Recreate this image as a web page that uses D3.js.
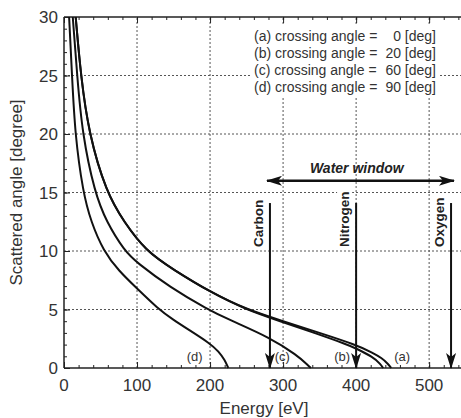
<!DOCTYPE html>
<html>
<head>
<meta charset="utf-8">
<script src="https://cdn.jsdelivr.net/npm/d3@7"></script>
<style>
  body { margin: 0; background: #fff; }
  text { font-family: Arial, "Liberation Sans", sans-serif; }
</style>
</head>
<body>
<svg width="461" height="418"></svg>
<script>
// curves: scattered angle vs energy for each crossing angle
var angleA = [30, 25, 20, 15, 12.5, 10, 8.4, 6.5, 5, 4, 3, 2, 1.3, 0.85, 0.4, 0];
var energyA = [16, 23, 34, 58, 82, 112, 150, 200, 250, 300, 350, 399, 423, 435, 443, 448];

var angleB = [30, 25, 20, 15, 12.5, 10, 8.4, 6.5, 5, 4, 3, 2, 1.7, 0.95, 0.3, 0];
var energyB = [16, 23, 34, 58, 82, 112, 150, 200, 249, 296, 343, 388, 399, 423, 434, 437];

var angleC = [30, 25, 20, 15, 12.5, 10, 9, 6.9, 5, 4.1, 2.6, 1.1, 0.25, 0];
var energyC = [12, 18, 25, 42, 58, 83, 100, 145, 197, 227, 282, 319, 334, 338];

var angleD = [30, 25, 20, 15, 12.5, 10, 8.3, 6.8, 5.1, 4.1, 3.3, 2.1, 1.4, 0.7, 0];
var energyD = [7, 11, 15, 26, 37, 54, 75, 100, 128, 150, 170, 200, 212, 220, 225];

var curveNames = ["(a)", "(b)", "(c)", "(d)"];
var labelEnergy = [463, 381, 299, 179];
var legendLines = [["(a) crossing angle =", "0 [deg]"], ["(b) crossing angle =", "20 [deg]"],
                   ["(c) crossing angle =", "60 [deg]"], ["(d) crossing angle =", "90 [deg]"]];

var edgeNames = ["Carbon", "Nitrogen", "Oxygen"];
var edgeEnergy = [282, 400, 530];

var xTicks = [0, 100, 200, 300, 400, 500];
var yTicks = [0, 5, 10, 15, 20, 25, 30];

var svg = d3.select("svg");
var mLeft = 64, mTop = 17, mBottom = 368, mRight = 462;

var x = d3.scaleLinear().domain([0, 545]).range([mLeft, mRight]);
var y = d3.scaleLinear().domain([0, 30]).range([mBottom, mTop]);

var grid = svg.append("g");
grid.selectAll(".gx").data(xTicks.slice(1)).enter().append("line")
  .attr("x1", d => x(d)).attr("x2", d => x(d))
  .attr("y1", y(0)).attr("y2", y(30))
  .style("stroke", "#555").style("stroke-width", 1).style("stroke-dasharray", "2,2");
grid.selectAll(".gy").data(yTicks.slice(1, -1)).enter().append("line")
  .attr("x1", x(0)).attr("x2", mRight)
  .attr("y1", d => y(d)).attr("y2", d => y(d))
  .style("stroke", "#555").style("stroke-width", 1).style("stroke-dasharray", "2,2");

// legend box hides grid behind it
svg.append("rect").attr("x", 252).attr("y", 26).attr("width", 186).attr("height", 70).style("fill", "#fff");
legendLines.forEach(function(l, i) {
  svg.append("text").attr("x", 254).attr("y", 41 + i * 17)
    .style("font-size", "14px").style("fill", "#333").text(l[0]);
  svg.append("text").attr("x", 436).attr("y", 41 + i * 17).attr("text-anchor", "end")
    .style("font-size", "14px").style("fill", "#333").text(l[1]);
});

// axes
var xMinor = d3.range(0, 545, 20);
var yMinor = d3.range(0, 31, 1);
svg.append("g").attr("transform", "translate(0," + mBottom + ")")
  .call(d3.axisTop(x).tickValues(xMinor).tickSize(3).tickFormat(""))
  .call(g => g.select(".domain").remove());
svg.append("g").attr("transform", "translate(0," + mBottom + ")")
  .call(d3.axisTop(x).tickValues(xTicks).tickSize(6).tickFormat(""))
  .call(g => g.select(".domain").remove());
svg.append("g").attr("transform", "translate(0," + mTop + ")")
  .call(d3.axisBottom(x).tickValues(xMinor).tickSize(3).tickFormat(""))
  .call(g => g.select(".domain").remove());
svg.append("g").attr("transform", "translate(0," + mTop + ")")
  .call(d3.axisBottom(x).tickValues(xTicks).tickSize(6).tickFormat(""))
  .call(g => g.select(".domain").remove());
svg.append("g").attr("transform", "translate(" + mLeft + ",0)")
  .call(d3.axisRight(y).tickValues(yMinor).tickSize(3).tickFormat(""))
  .call(g => g.select(".domain").remove());
svg.append("g").attr("transform", "translate(" + mLeft + ",0)")
  .call(d3.axisRight(y).tickValues(yTicks).tickSize(6).tickFormat(""))
  .call(g => g.select(".domain").remove());
svg.selectAll(".tick line").style("stroke", "#222");

svg.append("line").attr("x1", mLeft).attr("x2", mRight).attr("y1", mBottom).attr("y2", mBottom)
  .style("stroke", "#222").style("stroke-width", 1.5);
svg.append("line").attr("x1", mLeft).attr("x2", mRight).attr("y1", mTop).attr("y2", mTop)
  .style("stroke", "#222").style("stroke-width", 1.5);
svg.append("line").attr("x1", mLeft).attr("x2", mLeft).attr("y1", mTop).attr("y2", mBottom)
  .style("stroke", "#222").style("stroke-width", 1.5);

svg.selectAll(".xl").data(xTicks).enter().append("text")
  .attr("x", d => x(d)).attr("y", 391).attr("text-anchor", "middle")
  .style("font-size", "17px").style("fill", "#333").text(d => d);
svg.selectAll(".yl").data(yTicks).enter().append("text")
  .attr("x", 58).attr("y", d => y(d) + 6).attr("text-anchor", "end")
  .style("font-size", "17px").style("fill", "#333").text(d => d);

svg.append("text").attr("x", 264).attr("y", 414).attr("text-anchor", "middle")
  .style("font-size", "17px").style("fill", "#333").text("Energy [eV]");
svg.append("text").attr("transform", "translate(22," + y(15) + ") rotate(-90)")
  .attr("text-anchor", "middle")
  .style("font-size", "17px").style("fill", "#333").text("Scattered angle [degree]");

// curves (smoothed through the read points)
var line = d3.line().x(d => x(d[0])).y(d => y(d[1])).curve(d3.curveBasis);
var series = [[energyA, angleA], [energyB, angleB], [energyC, angleC], [energyD, angleD]];
svg.append("g").selectAll("path").data(series).enter().append("path")
  .attr("d", s => line(s[0].map((e, i) => [e, s[1][i]])))
  .style("fill", "none").style("stroke", "#111").style("stroke-width", 2);

svg.selectAll(".cl").data(curveNames).enter().append("text")
  .attr("x", (d, i) => x(labelEnergy[i])).attr("y", 361).attr("text-anchor", "middle")
  .style("font-size", "13px").style("fill", "#333").text(d => d);

// arrows
var defs = svg.append("defs");
defs.append("marker").attr("id", "head").attr("viewBox", "0 0 16 10")
  .attr("refX", 15).attr("refY", 5).attr("markerWidth", 16).attr("markerHeight", 10)
  .attr("markerUnits", "userSpaceOnUse").attr("orient", "auto-start-reverse")
  .append("path").attr("d", "M0,0 L16,5 L0,10 L4,5 Z").style("fill", "#111");

var edges = svg.append("g");
edgeNames.forEach(function(n, i) {
  var ex = x(edgeEnergy[i]);
  var t = edges.append("text")
    .attr("transform", "translate(" + (ex - 7) + ",247) rotate(-90)")
    .style("font-size", "13.5px").style("font-weight", "bold").style("fill", "#222").text(n);
  var b = t.node().getBBox();
  edges.insert("rect", "text")
    .attr("transform", "translate(" + (ex - 7) + ",247) rotate(-90)")
    .attr("x", b.x - 1).attr("y", b.y).attr("width", b.width + 2).attr("height", b.height)
    .style("fill", "#fff");
  edges.append("line").attr("x1", ex).attr("x2", ex).attr("y1", y(14.1)).attr("y2", y(0))
    .style("stroke", "#111").style("stroke-width", 2).attr("marker-end", "url(#head)");
});

svg.append("line").attr("x1", x(278)).attr("x2", x(534)).attr("y1", y(16)).attr("y2", y(16))
  .style("stroke", "#111").style("stroke-width", 2.5)
  .attr("marker-start", "url(#head)").attr("marker-end", "url(#head)");
svg.append("text").attr("x", x(401)).attr("y", 173).attr("text-anchor", "middle")
  .style("font-size", "14px").style("font-weight", "bold").style("font-style", "italic")
  .style("fill", "#222").text("Water window");
</script>
</body>
</html>
